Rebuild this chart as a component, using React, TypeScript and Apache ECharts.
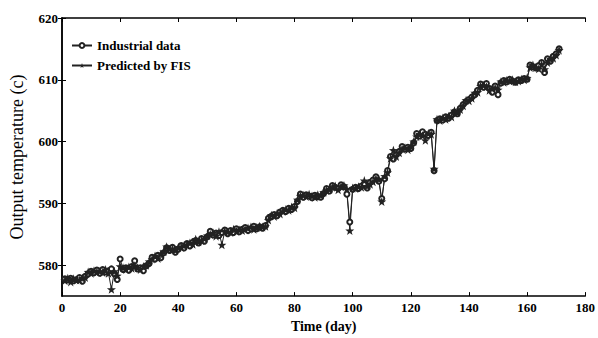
import React, { useEffect, useRef } from "react";
import * as echarts from "echarts";

const industrial = [
  577.8, 577.6, 577.9, 577.5, 577.7, 578.0, 577.4, 578.2, 578.6, 579.0,
  578.8, 579.2, 578.7, 579.3, 578.9, 579.1, 579.4, 578.6, 577.7, 581.0,
  579.3, 579.6, 579.2, 579.8, 580.7, 579.4, 579.6, 579.1, 579.9, 580.3,
  581.3, 581.0, 581.6, 581.2, 582.0, 582.8, 582.4, 582.9, 582.1, 582.6,
  583.2, 582.8, 583.5, 583.1, 583.7, 584.0, 583.6, 584.3, 583.9, 584.6,
  585.5, 584.9, 585.2, 584.8, 585.3, 585.7, 585.1, 585.6, 585.3, 585.9,
  585.4, 585.8, 586.1, 585.6, 585.9, 586.3, 585.9, 586.2, 586.0, 586.4,
  587.6, 587.9, 588.2, 588.0, 588.6, 588.9, 588.7, 589.2, 589.0, 589.5,
  590.3, 591.5, 591.0, 591.4, 591.2, 590.9, 591.3, 591.1, 591.0, 591.6,
  592.4, 592.0, 592.9, 592.6, 592.4, 593.0, 592.7, 591.5, 587.0, 592.3,
  592.6, 592.4, 592.8, 593.2, 592.5, 593.4, 593.8, 594.3, 593.6, 590.8,
  594.0, 595.3, 597.6, 597.2, 597.9, 598.4, 599.2, 598.8, 599.1, 598.9,
  599.8, 601.3, 600.9, 601.6, 601.2, 601.0, 601.5, 595.3, 603.4, 603.7,
  603.5, 604.0, 603.8, 604.3, 604.8, 604.5, 605.4, 606.0, 606.5, 606.8,
  607.2, 607.6, 608.3, 609.3, 608.8, 609.4, 608.6, 608.0, 609.0, 607.6,
  609.5, 609.9, 609.7, 610.1, 609.8, 609.6, 610.0, 609.9, 610.2, 610.1,
  612.4, 612.1, 611.9, 612.3, 612.8, 611.2, 613.4, 613.0, 613.8, 614.2, 615.0,
];

const predicted = [
  577.5, 577.9, 577.3, 577.8, 577.6, 577.6, 577.9, 578.0, 578.9, 578.7,
  579.1, 578.9, 579.0, 578.8, 579.3, 578.7, 576.1, 579.0, 578.3, 579.8,
  579.6, 579.3, 579.7, 579.5, 579.9, 579.6, 579.3, 579.8, 580.0, 580.6,
  581.0, 581.5, 581.1, 581.8, 582.2, 583.0, 582.6, 582.7, 582.4, 582.9,
  582.9, 583.2, 583.3, 583.6, 583.4, 584.2, 583.8, 584.0, 584.3, 584.8,
  585.0, 585.2, 584.7, 585.4, 583.3, 585.5, 585.4, 585.3, 585.8, 585.5,
  585.7, 585.6, 585.8, 586.0, 586.2, 585.8, 586.1, 586.3, 586.2, 586.3,
  587.3, 588.1, 587.9, 588.4, 588.3, 588.7, 589.0, 588.9, 589.4, 589.3,
  590.6, 591.2, 591.3, 591.1, 591.5, 591.2, 591.0, 591.4, 591.3, 591.8,
  592.1, 592.3, 592.6, 592.8, 592.2, 592.7, 592.9, 592.3, 585.6, 592.5,
  592.4, 592.7, 592.6, 593.7, 592.8, 593.1, 593.5, 594.0, 593.9, 590.3,
  594.4, 595.0, 597.3, 598.6, 597.6, 598.2, 598.8, 599.0, 598.7, 599.2,
  600.0, 600.8, 601.2, 601.0, 600.2, 601.3, 601.2, 595.6, 603.6, 603.4,
  603.8, 603.6, 604.1, 604.0, 605.0, 604.7, 605.2, 605.8, 606.7, 606.6,
  607.0, 607.9, 608.0, 609.0, 609.1, 608.9, 608.3, 608.6, 608.7, 608.4,
  609.7, 609.6, 609.9, 609.8, 610.0, 609.7, 609.8, 610.1, 610.0, 610.3,
  612.0, 612.4, 612.0, 611.8, 612.5, 611.7, 612.8, 613.4, 613.5, 614.0, 614.8,
];

const yTicks = [580, 590, 600, 610, 620];
const xTicks = [0, 20, 40, 60, 80, 100, 120, 140, 160, 180];

const STAR =
  "path://M0,-10 L2.35,-3.24 L9.51,-3.09 L3.8,1.24 L5.88,8.09 L0,4 L-5.88,8.09 L-3.8,1.24 L-9.51,-3.09 L-2.35,-3.24 Z";

const FONT = "'Liberation Serif', 'Times New Roman', Times, serif";

export default function App() {
  const ref = useRef<HTMLDivElement>(null);
  useEffect(() => {
    if (!ref.current) return;
    const chart = echarts.init(ref.current, null, { renderer: "svg" });
    const indData = industrial.map((v, i) => [i + 1, v]);
    const predData = predicted.map((v, i) => [i + 1, v]);
    const axisLine = { lineStyle: { color: "#000", width: 1.5 } };
    const tick = { inside: true, length: 4, lineStyle: { color: "#000", width: 1 } };
    chart.setOption({
      animation: false,
      backgroundColor: "#fff",
      grid: { left: 61, right: 11, top: 18, bottom: 34, containLabel: false },
      legend: {
        left: 66,
        top: 34,
        orient: "vertical",
        itemGap: 7,
        itemWidth: 20,
        itemHeight: 6,
        textStyle: { fontFamily: FONT, fontWeight: "bold", fontSize: 13, color: "#000" },
        data: ["Industrial data", "Predicted by FIS"],
      },
      xAxis: [
        {
          type: "value",
          min: 0,
          max: 180,
          interval: 20,
          name: "Time (day)",
          nameLocation: "middle",
          nameGap: 17,
          nameTextStyle: { fontFamily: FONT, fontWeight: "bold", fontSize: 14, color: "#000" },
          axisLine,
          axisTick: { ...tick, customValues: xTicks },
          axisLabel: {
            customValues: xTicks,
            fontFamily: FONT,
            fontWeight: "bold",
            fontSize: 13,
            color: "#000",
            margin: 5,
          },
          splitLine: { show: false },
        },
        {
          type: "value",
          position: "top",
          min: 0,
          max: 180,
          interval: 20,
          axisLine,
          axisTick: { ...tick, customValues: xTicks },
          axisLabel: { show: false },
          splitLine: { show: false },
        },
      ],
      yAxis: [
        {
          type: "value",
          min: 575,
          max: 620,
          interval: 5,
          name: "Output temperature (c)",
          nameLocation: "middle",
          nameGap: 36,
          nameTextStyle: { fontFamily: FONT, fontSize: 18, color: "#000" },
          axisLine,
          axisTick: { ...tick, customValues: yTicks },
          axisLabel: {
            customValues: yTicks,
            formatter: (v: number) => (v % 10 === 0 ? String(v) : ""),
            fontFamily: FONT,
            fontWeight: "bold",
            fontSize: 13,
            color: "#000",
            margin: 4,
          },
          splitLine: { show: false },
        },
        {
          type: "value",
          position: "right",
          min: 575,
          max: 620,
          interval: 5,
          axisLine,
          axisTick: { ...tick, customValues: yTicks },
          axisLabel: { show: false },
          splitLine: { show: false },
        },
      ],
      series: [
        {
          name: "Industrial data",
          type: "line",
          data: indData,
          symbol: "emptyCircle",
          symbolSize: 5,
          lineStyle: { color: "#222", width: 1 },
          itemStyle: { color: "#222", borderWidth: 0.8 },
        },
        {
          name: "Predicted by FIS",
          type: "line",
          data: predData,
          symbol: STAR,
          symbolSize: 9,
          lineStyle: { color: "#222", width: 1 },
          itemStyle: { color: "#222" },
        },
      ],
    });
    return () => chart.dispose();
  }, []);
  return (
    <div
      ref={ref}
      style={{ position: "fixed", left: 0, top: 0, width: 598, height: 338 }}
    />
  );
}
